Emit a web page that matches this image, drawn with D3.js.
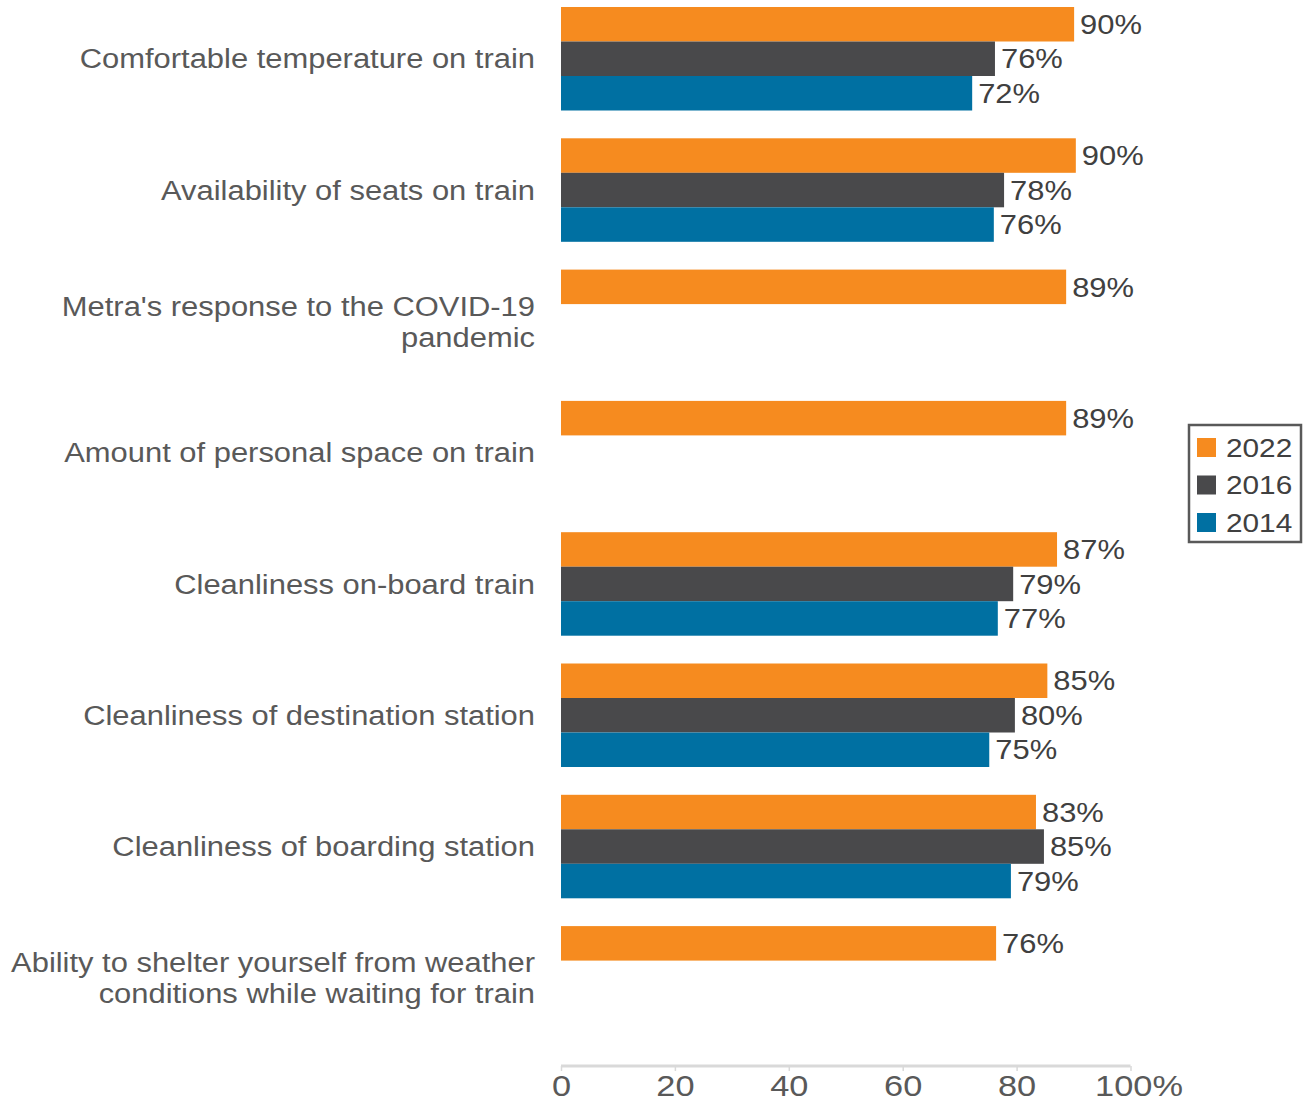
<!DOCTYPE html>
<html>
<head>
<meta charset="utf-8">
<script src="https://cdn.jsdelivr.net/npm/d3@7"></script>
<style>
  body { margin: 0; background: #fff; }
  text { font-family: "Liberation Sans", Arial, sans-serif; }
</style>
</head>
<body>
<script>
// size of the page
var width = 1309,
    height = 1103;

// categories, top to bottom (each entry is the lines of the label)
var categories = [
  ["Comfortable temperature on train"],
  ["Availability of seats on train"],
  ["Metra's response to the COVID-19", "pandemic"],
  ["Amount of personal space on train"],
  ["Cleanliness on-board train"],
  ["Cleanliness of destination station"],
  ["Cleanliness of boarding station"],
  ["Ability to shelter yourself from weather", "conditions while waiting for train"]
];

// series names and colours
var series = ["2022", "2016", "2014"];
var colors = ["#f68b1f", "#49494b", "#0070a2"];

// values per series (null = no data for that year)
var values2022 = [90.1, 90.4, 88.7, 88.7, 87.1, 85.4, 83.4, 76.4];
var values2016 = [76.2, 77.8, null, null, 79.4, 79.7, 84.8, null];
var values2014 = [72.2, 76.0, null, null, 76.7, 75.2, 79.0, null];

// axis ticks
var xTicks = [0, 20, 40, 60, 80, 100];

var allValues = [values2022, values2016, values2014];

// the reference text is a bit wider than Liberation Sans, stretch it
var sx = 1.145;

var svg = d3.select('body')
  .append('svg')
  .attr('width', width)
  .attr('height', height);

// x scale: 0..100 percent
var x = d3.scaleLinear()
  .domain([0, 100])
  .range([561, 1130.5]);

// outer band for each category
var bandTop = -6.9,
    bandStep = 131.3;
var y0 = d3.scaleBand()
  .domain(d3.range(categories.length))
  .range([bandTop, bandTop + bandStep * categories.length]);

// inner band for each series inside a category
var y1 = d3.scaleBand()
  .domain(series)
  .range([13.9, 13.9 + 103.5]);

// build rows of bars
var bars = [];
categories.forEach(function(c, i) {
  series.forEach(function(s, j) {
    var v = allValues[j][i];
    if (v !== null) bars.push({ cat: i, series: s, color: colors[j], value: v });
  });
});

var g = svg.append('g');

g.selectAll('rect')
  .data(bars)
  .enter()
  .append('rect')
  .attr('x', x(0))
  .attr('y', function(d) { return y0(d.cat) + y1(d.series); })
  .attr('width', function(d) { return x(d.value) - x(0); })
  .attr('height', y1.bandwidth())
  .attr('fill', function(d) { return d.color; });

// value labels
g.selectAll('text.val')
  .data(bars)
  .enter()
  .append('text')
  .attr('class', 'val')
  .attr('transform', function(d) {
    var ty = y0(d.cat) + y1(d.series) + y1.bandwidth() / 2;
    return 'translate(' + (x(d.value) + 6) + ',' + ty + ') scale(' + sx + ',1)';
  })
  .attr('dy', '0.36em')
  .attr('fill', '#404040')
  .style('font-size', '27px')
  .text(function(d) { return Math.round(d.value) + '%'; });

// category labels
var catLabels = svg.append('g')
  .selectAll('text')
  .data(categories)
  .enter()
  .append('text')
  .attr('text-anchor', 'end')
  .attr('fill', '#595959')
  .style('font-size', '27px')
  .attr('transform', function(d, i) {
    var mid = y0(i) + y1.range()[0] + 103.5 / 2;
    return 'translate(535,' + (mid - (d.length - 1) * 15.5) + ') scale(' + sx + ',1)';
  });

catLabels.selectAll('tspan')
  .data(function(d) { return d; })
  .enter()
  .append('tspan')
  .attr('x', 0)
  .attr('dy', function(d, k) { return k === 0 ? '0.36em' : '31px'; })
  .text(function(d) { return d; });

// x axis
var axis = svg.append('g')
  .attr('transform', 'translate(0,1066)')
  .call(d3.axisBottom(x)
    .tickValues(xTicks)
    .tickSize(5)
    .tickPadding(4)
    .tickFormat(function(d) { return d === 100 ? '100%' : d; }));

axis.select('.domain')
  .attr('stroke', '#d9d9d9')
  .attr('stroke-width', 3)
  .attr('d', 'M' + x(0) + ',0H' + x(100));
axis.selectAll('.tick line')
  .attr('stroke', '#d9d9d9')
  .attr('stroke-width', 1.5);
axis.selectAll('.tick text')
  .attr('fill', '#595959')
  .attr('transform', 'scale(' + sx + ',1)')
  // the last label is centred on its number, not on the % sign
  .attr('dx', function(d) { return d === 100 ? 7 : 0; })
  .style('font-size', '30px')
  .style('font-family', '"Liberation Sans", Arial, sans-serif');

// legend
var legend = svg.append('g')
  .attr('transform', 'translate(1189,425)');

legend.append('rect')
  .attr('width', 112)
  .attr('height', 117)
  .attr('fill', '#fff')
  .attr('stroke', '#595959')
  .attr('stroke-width', 2.5);

var items = legend.selectAll('g.item')
  .data(series)
  .enter()
  .append('g')
  .attr('class', 'item')
  .attr('transform', function(d, i) { return 'translate(8,' + (13 + i * 37.5) + ')'; });

items.append('rect')
  .attr('width', 19)
  .attr('height', 19)
  .attr('fill', function(d, i) { return colors[i]; });

items.append('text')
  .attr('transform', 'translate(29,9.5) scale(' + sx + ',1)')
  .attr('dy', '0.36em')
  .attr('fill', '#404040')
  .style('font-size', '26px')
  .text(function(d) { return d; });
</script>
</body>
</html>
